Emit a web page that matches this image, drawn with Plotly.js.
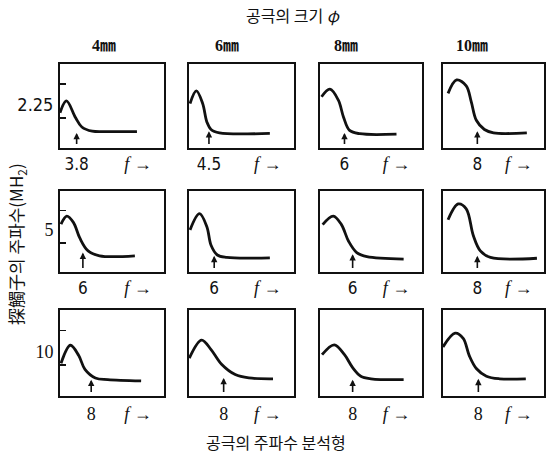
<!DOCTYPE html>
<html>
<head>
<meta charset="utf-8">
<script src="https://cdn.plot.ly/plotly-3.0.1.min.js"></script>
<style>html,body{margin:0;padding:0;background:#fff;}#chart{width:550px;height:456px;}</style>
</head>
<body>
<div id="chart"></div>
<script>
// Column headers (pore size) and row labels (probe frequency)
const poreSizes = ['4㎜', '6㎜', '8㎜', '10㎜'];
const probeFreqs = ['2.25', '5', '10'];
// Peak frequency labels under the arrows [row][col]
const peakLabels = [
  ['3.8', '4.5', '6', '8'],
  ['6', '6', '6', '8'],
  ['8', '8', '8', '8']
];
// Arrow positions (relative frequency units, 0-10) [row][col]
const arrowX = [
  [1.6, 1.9, 2.4, 3.4],
  [2.2, 2.4, 3.2, 3.4],
  [3.0, 3.3, 3.2, 3.5]
];
const arrowTop = [
  [1.8, 2.0, 1.8, 2.0],
  [2.4, 2.0, 2.2, 2.0],
  [1.9, 2.1, 1.9, 2.0]
];
// Spectrum curves (relative units) per row, per column
const row1X = [
  [0, 0.62, 1.5, 2.1, 3.1, 4.5, 7.4],
  [0.1, 0.7, 1.3, 1.7, 2.1, 2.9, 7.7],
  [0.15, 0.97, 1.8, 2.3, 2.9, 3.9, 7.5],
  [0.5, 1.35, 2.3, 2.8, 3.3, 4.1, 5.0, 8.3]
];
const row1Y = [
  [4.2, 5.6, 3.6, 2.5, 2.0, 1.95, 1.95],
  [5.3, 6.8, 5.3, 3.1, 2.2, 1.8, 1.75],
  [6.1, 7.0, 5.7, 3.7, 2.1, 1.7, 1.65],
  [6.5, 8.1, 7.4, 5.5, 3.3, 2.2, 1.8, 1.8]
];
const row2X = [
  [0.1, 0.65, 1.3, 1.9, 2.7, 3.8, 7.2],
  [0.1, 1.0, 1.7, 2.1, 2.7, 3.6, 7.7],
  [0.26, 1.3, 2.1, 2.8, 3.6, 4.6, 8.2],
  [0.5, 1.5, 2.3, 3.0, 3.7, 4.7, 9.3]
];
const row2Y = [
  [5.9, 6.9, 6.1, 4.2, 2.6, 2.0, 2.0],
  [5.2, 7.2, 5.6, 3.3, 2.1, 1.8, 1.75],
  [5.85, 6.9, 5.85, 3.8, 2.4, 1.9, 1.6],
  [6.45, 8.4, 7.8, 4.5, 2.6, 1.8, 1.7]
];
const row3X = [
  [0.1, 1.0, 1.8, 2.4, 3.4, 4.6, 7.8],
  [0.03, 1.2, 2.1, 3.1, 4.4, 5.7, 8.0],
  [0.2, 1.4, 2.4, 3.2, 4.0, 5.0, 8.2],
  [0.0, 1.2, 2.0, 2.6, 3.3, 4.3, 5.6, 8.2]
];
const row3Y = [
  [3.8, 5.9, 4.7, 3.1, 2.1, 1.9, 1.75],
  [4.4, 6.5, 5.4, 3.7, 2.5, 2.1, 2.0],
  [4.8, 5.95, 4.8, 3.3, 2.3, 2.0, 1.9],
  [5.7, 7.3, 6.7, 4.7, 3.2, 2.3, 2.0, 2.0]
];
const curvesX = [row1X, row2X, row3X];
const curvesY = [row1Y, row2Y, row3Y];
const fLabelX = 7.5;
const rowTickVals = [3.6, 7.6];
const rowLabelY = [5.2, 5.2, 5.1];

// Layout geometry (pixels)
const W = 550, H = 456;
const colPx = [[60, 164], [189, 294], [320, 422], [443, 544]];
const rowPx = [[64, 148], [191, 272], [310, 396]];

const serif = 'Liberation Serif, Times New Roman, Noto Sans CJK KR, serif';
const narrow = 'Liberation Sans Narrow, DejaVu Sans Condensed, Liberation Sans, sans-serif';
const kr = 'Noto Sans CJK KR, sans-serif';
const fText = '<span style="font-family:Liberation Serif;font-size:18px"><i>f</i> →</span>';

const traces = [];
const layout = {
  width: W, height: H,
  margin: {l: 0, r: 0, t: 0, b: 0},
  paper_bgcolor: '#fff', plot_bgcolor: '#fff',
  showlegend: false,
  annotations: []
};

let n = 0;
for (let r = 0; r < 3; r++) {
  for (let c = 0; c < 4; c++) {
    n++;
    const xs = n === 1 ? '' : String(n);
    const xa = 'x' + xs, ya = 'y' + xs;
    traces.push({
      type: 'scatter', mode: 'lines',
      x: curvesX[r][c], y: curvesY[r][c],
      xaxis: xa, yaxis: ya,
      line: {color: '#111', width: 2.8, shape: 'spline', smoothing: 1},
      hoverinfo: 'skip'
    });
    const labFont = r === 2 ? {family: serif, size: 18, color: '#111'} : {family: narrow, size: 17, color: '#111'};
    layout['xaxis' + xs] = {
      domain: [colPx[c][0] / W, colPx[c][1] / W],
      anchor: ya, range: [0, 10],
      showgrid: false, zeroline: false,
      showline: true, mirror: true, linecolor: '#111', linewidth: 2,
      ticks: '',
      tickvals: [arrowX[r][c], fLabelX],
      ticktext: [peakLabels[r][c], fText],
      tickfont: labFont,
      ticklabelstandoff: 0,
      fixedrange: true
    };
    const yax = {
      domain: [1 - rowPx[r][1] / H, 1 - rowPx[r][0] / H],
      anchor: xa, range: [0, 10],
      showgrid: false, zeroline: false,
      showline: true, mirror: true, linecolor: '#111', linewidth: 2,
      fixedrange: true
    };
    if (c === 0) {
      yax.tickvals = [rowLabelY[r]];
      yax.ticktext = [probeFreqs[r]];
      yax.ticks = '';
      yax.tickfont = r === 0 ? {family: narrow, size: 18, color: '#111'} : {family: serif, size: 18, color: '#111'};
      yax.minor = {tickvals: rowTickVals, ticks: 'inside', ticklen: 6, tickwidth: 1.5, tickcolor: '#111'};
      yax.ticklabelstandoff = 1;
    } else {
      yax.showticklabels = false;
      yax.ticks = '';
    }
    layout['yaxis' + xs] = yax;
    // Peak frequency arrow
    layout.annotations.push({
      xref: xa, yref: ya, axref: xa, ayref: ya,
      x: arrowX[r][c], y: arrowTop[r][c],
      ax: arrowX[r][c], ay: 0.3,
      showarrow: true, arrowhead: 2, arrowsize: 0.8, arrowwidth: 1.6, arrowcolor: '#111',
      text: ''
    });
  }
}

// Column headers
const headerX = [104, 227, 346, 472];
for (let c = 0; c < 4; c++) {
  layout.annotations.push({
    xref: 'paper', yref: 'paper',
    x: headerX[c] / W, y: 1 - 45 / H,
    text: '<b>' + poreSizes[c] + '</b>', showarrow: false,
    font: {family: serif, size: 16, color: '#111'},
    xanchor: 'center', yanchor: 'middle'
  });
}
// Top title
layout.annotations.push({
  xref: 'paper', yref: 'paper', x: 293 / W, y: 1 - 15 / H,
  text: '공극의 크기 <i>φ</i>', showarrow: false,
  font: {family: kr, size: 16, color: '#111'},
  xanchor: 'center', yanchor: 'middle'
});
// Bottom title
layout.annotations.push({
  xref: 'paper', yref: 'paper', x: 276 / W, y: 1 - 442 / H,
  text: '공극의 주파수 분석형', showarrow: false,
  font: {family: kr, size: 16, color: '#111'},
  xanchor: 'center', yanchor: 'middle'
});
// Left vertical title
layout.annotations.push({
  xref: 'paper', yref: 'paper', x: 16 / W, y: 1 - 244 / H,
  text: '探觸子의 주파수(MH<sub>2</sub>)', showarrow: false, textangle: -90,
  font: {family: kr, size: 17, color: '#111'},
  xanchor: 'center', yanchor: 'middle'
});

Plotly.newPlot('chart', traces, layout, {displayModeBar: false, staticPlot: true});
</script>
</body>
</html>
